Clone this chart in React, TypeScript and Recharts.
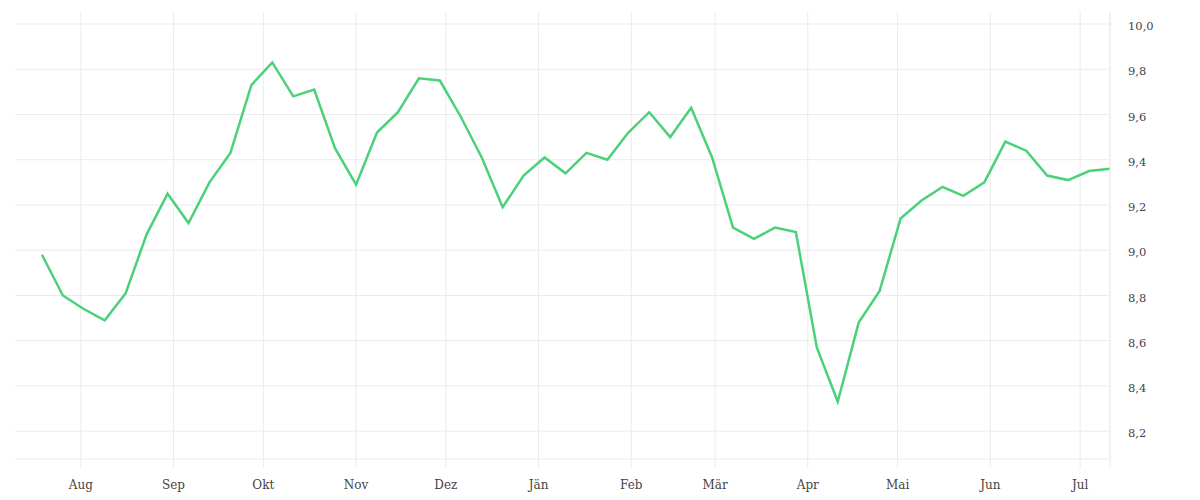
import { LineChart, Line, XAxis, YAxis, CartesianGrid } from 'recharts';

// weekly observations
const DATES = [
  '2022-07-19', '2022-07-26', '2022-08-02', '2022-08-09', '2022-08-16', '2022-08-23', '2022-08-30',
  '2022-09-06', '2022-09-13', '2022-09-20', '2022-09-27', '2022-10-04', '2022-10-11', '2022-10-18',
  '2022-10-25', '2022-11-01', '2022-11-08', '2022-11-15', '2022-11-22', '2022-11-29', '2022-12-06',
  '2022-12-13', '2022-12-20', '2022-12-27', '2023-01-03', '2023-01-10', '2023-01-17', '2023-01-24',
  '2023-01-31', '2023-02-07', '2023-02-14', '2023-02-21', '2023-02-28', '2023-03-07', '2023-03-14',
  '2023-03-21', '2023-03-28', '2023-04-04', '2023-04-11', '2023-04-18', '2023-04-25', '2023-05-02',
  '2023-05-09', '2023-05-16', '2023-05-23', '2023-05-30', '2023-06-06', '2023-06-13', '2023-06-20',
  '2023-06-27', '2023-07-04', '2023-07-11',
];

const VALUES = [
  8.98, 8.80, 8.74, 8.69, 8.81, 9.07, 9.25, 9.12, 9.30, 9.43,
  9.73, 9.83, 9.68, 9.71, 9.45, 9.29, 9.52, 9.61, 9.76, 9.75,
  9.59, 9.41, 9.19, 9.33, 9.41, 9.34, 9.43, 9.40, 9.52, 9.61,
  9.50, 9.63, 9.41, 9.10, 9.05, 9.10, 9.08, 8.57, 8.33, 8.68,
  8.82, 9.14, 9.22, 9.28, 9.24, 9.30, 9.48, 9.44, 9.33, 9.31,
  9.35, 9.36,
];

const MONTH_STARTS = [
  '2022-08-01', '2022-09-01', '2022-10-01', '2022-11-01', '2022-12-01', '2023-01-01',
  '2023-02-01', '2023-03-01', '2023-04-01', '2023-05-01', '2023-06-01', '2023-07-01',
];
const MONTH_LABELS = ['Aug', 'Sep', 'Okt', 'Nov', 'Dez', 'Jän', 'Feb', 'Mär', 'Apr', 'Mai', 'Jun', 'Jul'];

const Y_TICKS = [8.2, 8.4, 8.6, 8.8, 9.0, 9.2, 9.4, 9.6, 9.8, 10.0];
const Y_DOMAIN = [8.077, 10.053];

const X_START = Date.parse('2022-07-10');
const X_END = Date.parse('2023-07-11');

const data = DATES.map((d, i) => ({ t: Date.parse(d), value: VALUES[i] }));
const monthTicks = MONTH_STARTS.map((d) => Date.parse(d));
const xTicks = [...monthTicks, X_END];

const GRID = '#ebebeb';
const FONT = '"DejaVu Serif", serif';

const formatMonth = (t: number) => {
  const i = monthTicks.indexOf(t);
  return i >= 0 ? MONTH_LABELS[i] : '';
};

// grid only on the ticks, no frame along the top/left edges
const hLines = ({ offset }: any) =>
  Y_TICKS.map(
    (v) => offset.top + offset.height * (1 - (v - Y_DOMAIN[0]) / (Y_DOMAIN[1] - Y_DOMAIN[0])),
  );
const vLines = ({ offset }: any) =>
  xTicks.map((t) => offset.left + (offset.width * (t - X_START)) / (X_END - X_START));

export default function App() {
  return (
    <div style={{ position: 'fixed', left: 0, top: 0, width: 1200, height: 500, background: '#fff' }}>
      <LineChart width={1200} height={500} data={data} margin={{ top: 12, right: 0, bottom: 0, left: 15 }}>
        <CartesianGrid
          stroke={GRID}
          horizontalCoordinatesGenerator={hLines}
          verticalCoordinatesGenerator={vLines}
        />
        <XAxis
          dataKey="t"
          type="number"
          scale="time"
          domain={[X_START, X_END]}
          ticks={xTicks}
          tickFormatter={formatMonth}
          height={41}
          axisLine={{ stroke: GRID }}
          tickLine={{ stroke: GRID }}
          tickSize={9}
          tickMargin={12}
          tick={{ fill: '#444', fontSize: 12, fontFamily: FONT }}
          allowDataOverflow
        />
        <YAxis
          orientation="right"
          type="number"
          domain={Y_DOMAIN}
          ticks={Y_TICKS}
          tickFormatter={(v: number) => v.toFixed(1).replace('.', ',')}
          width={90}
          axisLine={{ stroke: GRID }}
          tickLine={false}
          tickSize={16}
          tickMargin={2}
          tick={{ fill: '#444', fontSize: 11.5, fontFamily: FONT, dy: 2 }}
          allowDataOverflow
        />
        <Line
          type="linear"
          dataKey="value"
          stroke="#4ad17a"
          strokeWidth={2.5}
          dot={false}
          activeDot={false}
          isAnimationActive={false}
        />
      </LineChart>
    </div>
  );
}
